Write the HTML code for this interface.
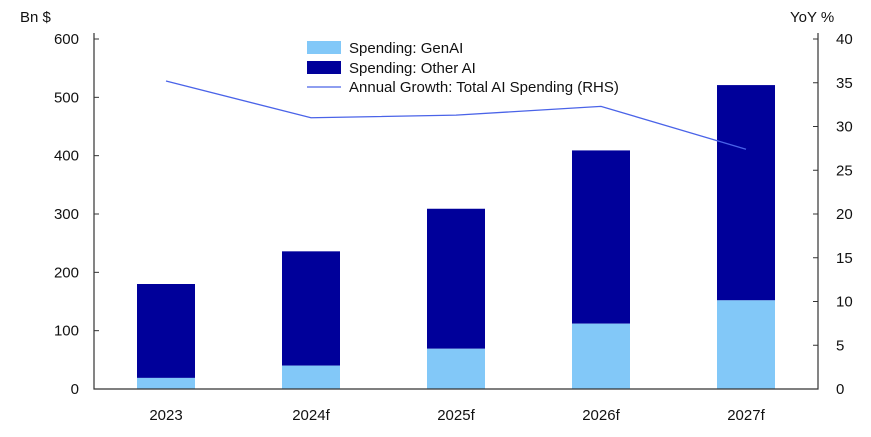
<!DOCTYPE html>
<html><head><meta charset="utf-8"><style>
body{margin:0;background:#fff;}
svg text{font-family:"Liberation Sans",sans-serif;font-size:15px;fill:#111;}
</style></head><body>
<svg id="c" width="871" height="432">
<text x="20" y="22">Bn $</text>
<text x="790" y="22">YoY %</text>
<g id="g"></g>
<g>
<rect x="307" y="41" width="34" height="13" fill="#82c8f8"/>
<text x="349" y="53">Spending: GenAI</text>
<rect x="307" y="61" width="34" height="13" fill="#00009a"/>
<text x="349" y="73">Spending: Other AI</text>
<line x1="307" y1="87" x2="341" y2="87" stroke="#4a63e8" stroke-width="1.3"/>
<text x="349" y="92">Annual Growth: Total AI Spending (RHS)</text>
</g>
</svg>
<script>
const categories=["2023","2024f","2025f","2026f","2027f"];
const genai=[19,40,69,112,152];
const totals=[180,236,309,409,521];
const growth=[35.2,31.0,31.3,32.3,27.4];
const leftTicks=[0,100,200,300,400,500,600];
const rightTicks=[0,5,10,15,20,25,30,35,40];
const NS="http://www.w3.org/2000/svg";
const g=document.getElementById('g');
const y0=389,y1=39,xL=94,xR=818;
const yL=v=>y0-(v/600)*(y0-y1);
const yR=v=>y0-(v/40)*(y0-y1);
const xC=i=>166+i*145;
function mk(t,a){const e=document.createElementNS(NS,t);for(const k in a)e.setAttribute(k,a[k]);g.appendChild(e);return e;}
categories.forEach((c,i)=>{
 let r=mk('rect',{x:xC(i)-29,y:yL(totals[i]),width:58,height:yL(genai[i])-yL(totals[i]),fill:'#00009a'});
 
 
 r=mk('rect',{x:xC(i)-29,y:yL(genai[i]),width:58,height:y0-yL(genai[i]),fill:'#82c8f8'});
 
 
 const t=mk('text',{x:xC(i),y:420,'text-anchor':'middle'});t.textContent=c;
 
 
});
let ax=mk('path',{d:`M${xL} ${y1-6}V${y0}H${xR}V${y1-6}`,fill:'none',stroke:'#333','stroke-width':1.2});


leftTicks.forEach(v=>{
 mk('line',{x1:xL,x2:xL+5,y1:yL(v),y2:yL(v),stroke:'#333'});
 const t=mk('text',{x:79,y:yL(v)+5,'text-anchor':'end'});t.textContent=v;
 
 
});
rightTicks.forEach(v=>{
 mk('line',{x1:xR-5,x2:xR,y1:yR(v),y2:yR(v),stroke:'#333'});
 const t=mk('text',{x:836,y:yR(v)+5});t.textContent=v;
 
 
});
const ln=mk('polyline',{points:growth.map((v,i)=>xC(i)+','+yR(v)).join(' '),fill:'none',stroke:'#4a63e8','stroke-width':1.3});


</script>
</body></html>
